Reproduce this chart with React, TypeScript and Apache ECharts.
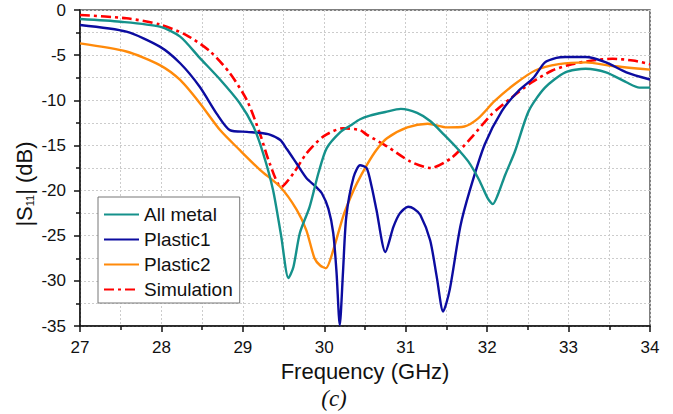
import React, { useEffect, useRef } from "react";
import * as echarts from "echarts";

const seriesNames = ["All metal", "Plastic1", "Plastic2", "Simulation"];
const xTicks = [27, 28, 29, 30, 31, 32, 33, 34];
const yTicks = [0, -5, -10, -15, -20, -25, -30, -35];

const allMetal: [number, number][] = [
  [27, -1.0], [27.5, -1.3], [27.98, -1.85], [28.23, -2.95], [28.47, -5.3], [28.72, -7.7],
  [28.96, -10.3], [29.13, -12.9], [29.25, -15.9], [29.37, -19.9], [29.47, -25], [29.56, -29.7],
  [29.62, -28.5], [29.7, -24.7], [29.82, -21.8], [29.93, -18], [30.03, -15.3], [30.2, -13.5],
  [30.32, -12.8], [30.44, -12.1], [30.56, -11.7], [30.75, -11.3], [30.94, -10.95], [31.14, -11.4],
  [31.3, -12.3], [31.47, -13.8], [31.62, -15.2], [31.77, -16.8], [31.9, -18.8], [32.01, -20.9],
  [32.07, -21.5], [32.13, -20.5], [32.22, -18.3], [32.34, -15.7], [32.51, -11.2], [32.71, -8.6],
  [32.96, -6.9], [33.21, -6.5], [33.46, -6.9], [33.71, -8.0], [33.87, -8.6], [34, -8.6],
];

const plastic1: [number, number][] = [
  [27, -1.66], [27.57, -2.4], [27.98, -4.06], [28.23, -5.9], [28.47, -8.5], [28.68, -11.5],
  [28.84, -13.3], [29.05, -13.5], [29.2, -13.6], [29.33, -13.8], [29.46, -14.4], [29.54, -15.4],
  [29.66, -17.0], [29.78, -18.6], [29.9, -19.6], [29.97, -20.3], [30.05, -22.0], [30.11, -24.7],
  [30.15, -29], [30.19, -34.9], [30.23, -29], [30.27, -22.9], [30.36, -18.5], [30.44, -17.2],
  [30.52, -17.5], [30.58, -19.5], [30.64, -22.1], [30.75, -26.8], [30.85, -24.0], [30.93, -22.5],
  [31.03, -21.8], [31.1, -22.0], [31.18, -22.7], [31.3, -25.5], [31.38, -29.5], [31.46, -33.4],
  [31.54, -31.0], [31.67, -24.0], [31.79, -19.9], [31.97, -14.9], [32.18, -11.2], [32.38, -9.0],
  [32.57, -7.5], [32.71, -5.8], [32.85, -5.3], [32.96, -5.2], [33.21, -5.2], [33.46, -5.8],
  [33.71, -6.9], [34, -7.7],
];

const plastic2: [number, number][] = [
  [27, -3.7], [27.57, -4.6], [27.98, -6.1], [28.23, -7.75], [28.47, -10.3], [28.72, -13.3],
  [28.96, -15.5], [29.21, -17.7], [29.46, -19.6], [29.66, -22.1], [29.78, -24.4], [29.88, -27.5],
  [29.95, -28.3], [30.02, -28.6], [30.11, -26.6], [30.23, -22.9], [30.32, -20.8], [30.4, -19.2],
  [30.52, -17.2], [30.64, -15.5], [30.77, -14.2], [31.02, -13.0], [31.27, -12.6], [31.51, -13.0],
  [31.72, -12.9], [31.89, -12.0], [32.09, -10.1], [32.34, -8.2], [32.59, -6.7], [32.88, -6.0],
  [33.21, -5.8], [33.54, -6.2], [34, -6.6],
];

const simulation: [number, number][] = [
  [27, -0.55], [27.57, -0.92], [27.98, -1.6], [28.31, -2.8], [28.6, -4.6], [28.84, -7.0],
  [29.05, -10.0], [29.21, -13.7], [29.33, -17.0], [29.47, -19.6], [29.62, -18.1], [29.78, -15.9],
  [29.99, -14.0], [30.23, -13.1], [30.44, -13.3], [30.52, -13.8], [30.77, -15.1], [31.06, -16.8],
  [31.31, -17.5], [31.56, -16.4], [31.8, -14.2], [32.05, -11.6], [32.3, -9.7], [32.55, -8.0],
  [32.8, -6.7], [33.04, -6.0], [33.29, -5.6], [33.54, -5.4], [33.79, -5.6], [34, -6.0],
];

const colors = ["#15918b", "#0c0ca0", "#ff8a0a", "#ff0000"];
const FONT = "Liberation Sans";

export default function App() {
  const ref = useRef<HTMLDivElement>(null);
  useEffect(() => {
    if (!ref.current) return;
    const chart = echarts.init(ref.current, null, { renderer: "svg" });
    const dataSets = [allMetal, plastic1, plastic2, simulation];
    chart.setOption({
      animation: false,
      backgroundColor: "#ffffff",
      grid: {
        left: 80,
        top: 10,
        right: 23,
        bottom: 88,
        show: true,
        borderColor: "#555",
        borderWidth: 1.5,
      },
      legend: {
        orient: "vertical",
        left: 98,
        top: 197,
        padding: [8, 7, 4, 5],
        itemGap: 6,
        itemWidth: 35,
        itemHeight: 14,
        borderColor: "#777",
        borderWidth: 1,
        backgroundColor: "#ffffff",
        data: seriesNames,
        itemStyle: { opacity: 0 },
        textStyle: { fontFamily: FONT, fontSize: 19, color: "#111", padding: [0, 0, 0, 0] },
      },
      xAxis: {
        type: "value",
        min: xTicks[0],
        max: xTicks[xTicks.length - 1],
        interval: 1,
        name: "Frequency (GHz)",
        nameLocation: "middle",
        nameGap: 32,
        nameTextStyle: { fontFamily: FONT, fontSize: 22, color: "#111" },
        axisLine: { show: true, onZero: false, lineStyle: { color: "#111", width: 1.5 } },
        axisTick: { show: true, length: 6, lineStyle: { color: "#111", width: 1.5 } },
        minorTick: { show: true, splitNumber: 2, length: 4, lineStyle: { color: "#111", width: 1.5 } },
        axisLabel: { fontFamily: FONT, fontSize: 17, color: "#111", margin: 13 },
        splitLine: { show: true, lineStyle: { color: "#ccc", type: [2, 2], width: 1 } },
        minorSplitLine: { show: true, lineStyle: { color: "#ccc", type: [2, 2], width: 1 } },
      },
      yAxis: {
        type: "value",
        min: yTicks[yTicks.length - 1],
        max: yTicks[0],
        interval: 5,
        axisLine: { show: true, onZero: false, lineStyle: { color: "#111", width: 1.5 } },
        axisTick: { show: true, length: 6, lineStyle: { color: "#111", width: 1.5 } },
        minorTick: { show: true, splitNumber: 2, length: 4, lineStyle: { color: "#111", width: 1.5 } },
        axisLabel: { fontFamily: FONT, fontSize: 17, color: "#111", margin: 14 },
        splitLine: { show: true, lineStyle: { color: "#ccc", type: [2, 2], width: 1 } },
        minorSplitLine: { show: true, lineStyle: { color: "#ccc", type: [2, 2], width: 1 } },
      },
      graphic: [
        {
          type: "text",
          x: 24,
          y: 184,
          rotation: Math.PI / 2,
          style: {
            text: "|S{sub|11}| (dB)",
            fontFamily: FONT,
            fontSize: 22,
            fill: "#111",
            align: "center",
            verticalAlign: "middle",
            rich: {
              sub: { fontSize: 11, fontFamily: FONT, fill: "#111", verticalAlign: "bottom", padding: [10, 0, 0, 0] },
            },
          },
        },
        {
          type: "text",
          x: 334,
          y: 398,
          style: {
            text: "(c)",
            fontFamily: "Liberation Serif",
            fontStyle: "italic",
            fontSize: 23,
            fill: "#111",
            align: "center",
            verticalAlign: "middle",
          },
        },
      ],
      series: seriesNames.map((name, i) => ({
        name,
        type: "line",
        data: dataSets[i],
        symbol: "none",
        smooth: 0.25,
        color: colors[i],
        lineStyle: {
          color: colors[i],
          width: i === 3 ? 2.6 : 2.4,
          type: i === 3 ? [10, 4, 3, 4] : "solid",
        },
        z: 10 - i,
      })),
    });
    return () => chart.dispose();
  }, []);
  return (
    <div
      ref={ref}
      style={{ position: "absolute", left: 0, top: 0, width: 673, height: 414 }}
    />
  );
}
